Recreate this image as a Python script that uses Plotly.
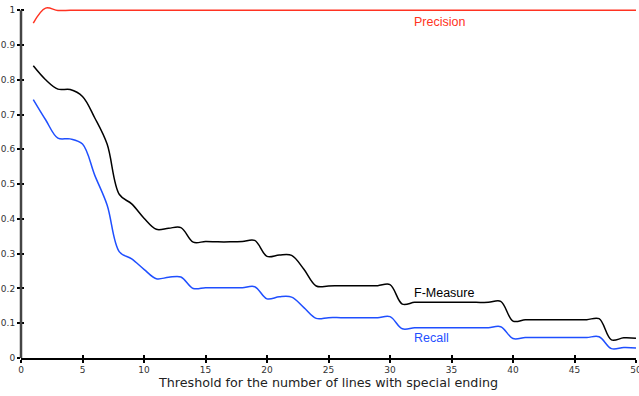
import plotly.graph_objects as go

# Threshold values (number of lines with special ending)
thresholds = list(range(1, 51))

precision = [0.963, 1.006, 0.999, 1.0, 1.0, 1.0, 1.0, 1.0, 1.0, 1.0,
             1.0, 1.0, 1.0, 1.0, 1.0, 1.0, 1.0, 1.0, 1.0, 1.0,
             1.0, 1.0, 1.0, 1.0, 1.0, 1.0, 1.0, 1.0, 1.0, 1.0,
             1.0, 1.0, 1.0, 1.0, 1.0, 1.0, 1.0, 1.0, 1.0, 1.0,
             1.0, 1.0, 1.0, 1.0, 1.0, 1.0, 1.0, 1.0, 1.0, 1.0]

f_measure = [0.840, 0.800, 0.773, 0.772, 0.752, 0.690, 0.615, 0.470, 0.443, 0.402,
             0.370, 0.373, 0.375, 0.333, 0.335, 0.334, 0.334, 0.335, 0.338, 0.292,
             0.296, 0.295, 0.255, 0.207, 0.207, 0.208, 0.208, 0.208, 0.208, 0.211,
             0.155, 0.160, 0.160, 0.160, 0.160, 0.160, 0.160, 0.160, 0.163, 0.106,
             0.110, 0.110, 0.110, 0.110, 0.110, 0.110, 0.113, 0.052, 0.058, 0.057]

recall = [0.743, 0.685, 0.632, 0.630, 0.615, 0.525, 0.440, 0.305, 0.285, 0.255,
          0.228, 0.232, 0.233, 0.200, 0.202, 0.202, 0.202, 0.202, 0.205, 0.170,
          0.176, 0.175, 0.145, 0.114, 0.116, 0.116, 0.116, 0.116, 0.116, 0.119,
          0.084, 0.087, 0.087, 0.087, 0.087, 0.087, 0.087, 0.087, 0.090, 0.056,
          0.059, 0.059, 0.059, 0.059, 0.059, 0.059, 0.061, 0.027, 0.030, 0.029]

series_names = ["Precision", "F-Measure", "Recall"]
series_values = [precision, f_measure, recall]
series_colors = ["#ff3322", "#000000", "#1f4fff"]
label_y = [0.966, 0.187, 0.0575]
label_x = 31.8

x_ticks = list(range(0, 51, 5))
y_ticks = [i / 10 for i in range(11)]

fig = go.Figure()
for name, vals, col in zip(series_names, series_values, series_colors):
    fig.add_trace(go.Scatter(
        x=thresholds, y=vals, mode="lines", name=name,
        line=dict(color=col, width=1.5, shape="spline", smoothing=1.0),
        hoverinfo="skip",
    ))

# empty trace on the overlay axes that draw the inner half of the ticks
fig.add_trace(go.Scatter(x=[], y=[], xaxis="x2", yaxis="y2", showlegend=False))

for name, yv, col in zip(series_names, label_y, series_colors):
    fig.add_annotation(x=label_x, y=yv, text=name, showarrow=False,
                       xanchor="left", yanchor="middle",
                       font=dict(family="Liberation Sans, Arial", size=12.5, color=col))

tick_font = dict(family="DejaVu Sans", size=9, color="#333333")
yr = [0, 1.012]
xr = [0, 50]

fig.update_layout(
    width=639, height=396,
    margin=dict(l=21, r=3, t=6, b=38, autoexpand=False),
    paper_bgcolor="white", plot_bgcolor="white",
    showlegend=False,
    xaxis=dict(range=xr, tickvals=x_ticks, ticks="outside", ticklen=3, tickwidth=1.5,
               tickcolor="black", showline=True, linecolor="black", linewidth=1.5,
               showgrid=False, zeroline=False, tickfont=tick_font, automargin=False,
               ticklabeloverflow="allow", ticklabelstandoff=-1,
               title=dict(text="Threshold for the number of lines with special ending",
                          font=dict(family="DejaVu Sans", size=12.7, color="#222222"),
                          standoff=5)),
    yaxis=dict(range=yr, tickvals=y_ticks, ticks="outside", ticklen=3, tickwidth=1.5,
               tickcolor="black", showline=False, showgrid=False, zeroline=False,
               tickfont=tick_font, automargin=False, ticklabeloverflow="allow"),
    xaxis2=dict(range=xr, overlaying="x", anchor="y2", tickvals=x_ticks, ticks="inside",
                ticklen=3, tickwidth=1.5, tickcolor="black", showticklabels=False,
                showline=False, showgrid=False, zeroline=False),
    yaxis2=dict(range=yr, overlaying="y", anchor="x2", tickvals=y_ticks, ticks="inside",
                ticklen=3, tickwidth=1.5, tickcolor="black", showticklabels=False,
                showline=False, showgrid=False, zeroline=False),
    shapes=[dict(type="line", xref="paper", yref="y", x0=0, x1=0, y0=0, y1=1,
                 line=dict(color="#444444", width=2.5))],
)

fig.write_html("out.html")
